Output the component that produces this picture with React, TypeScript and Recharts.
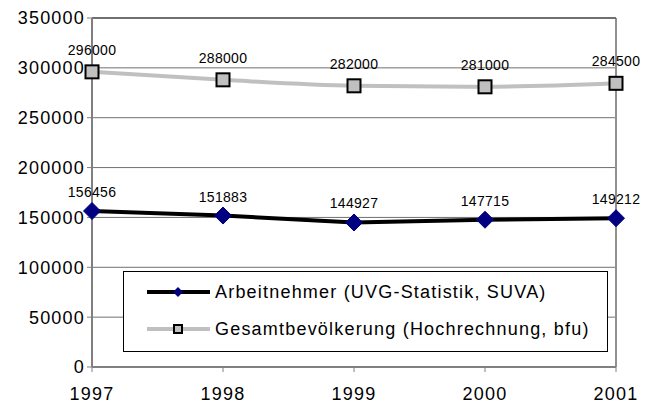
import React from "react";
import {
  LineChart,
  Line,
  XAxis,
  YAxis,
  CartesianGrid,
  LabelList,
  ReferenceLine,
} from "recharts";

const years = ["1997", "1998", "1999", "2000", "2001"];
const arbeitnehmer = [156456, 151883, 144927, 147715, 149212];
const gesamt = [296000, 288000, 282000, 281000, 284500];
const yTicks = [0, 50000, 100000, 150000, 200000, 250000, 300000, 350000];
const seriesNames = [
  "Arbeitnehmer (UVG-Statistik, SUVA)",
  "Gesamtbevölkerung (Hochrechnung, bfu)",
];

const data = years.map((y, i) => ({
  year: y,
  arb: arbeitnehmer[i],
  ges: gesamt[i],
}));

const FONT = "'Liberation Sans', Arial, sans-serif";

const Diamond = (props: any) => {
  const { cx, cy } = props;
  if (cx == null || cy == null) return null;
  const r = 8.5;
  return (
    <path
      d={`M${cx},${cy - r} L${cx + r},${cy} L${cx},${cy + r} L${cx - r},${cy} Z`}
      fill="#000080"
      stroke="#000080"
      strokeWidth={1}
    />
  );
};

const Square = (props: any) => {
  const { cx, cy } = props;
  if (cx == null || cy == null) return null;
  const s = 6.5;
  return (
    <rect
      x={cx - s}
      y={cy - s}
      width={2 * s}
      height={2 * s}
      fill="#c0c0c0"
      stroke="#000000"
      strokeWidth={2}
    />
  );
};

const LegendBox = () => (
  <div
    style={{
      position: "absolute",
      left: 123,
      top: 271,
      width: 485,
      height: 81,
      boxSizing: "border-box",
      border: "1px solid #000",
      background: "#fff",
      fontFamily: FONT,
      fontSize: 18,
      letterSpacing: 1.2,
      fontWeight: "normal",
      color: "#000",
    }}
  >
    {seriesNames.map((name, i) => (
      <div
        key={name}
        style={{
          position: "absolute",
          left: 22,
          top: i === 0 ? 8 : 45,
          display: "flex",
          alignItems: "center",
          height: 24,
          whiteSpace: "nowrap",
        }}
      >
        <svg width={66} height={14} style={{ marginRight: 3 }}>
          <line
            x1={1}
            y1={7}
            x2={64}
            y2={7}
            stroke={i === 0 ? "#000" : "#c0c0c0"}
            strokeWidth={4}
          />
          {i === 0 ? (
            <path d="M32,2 L37,7 L32,12 L27,7 Z" fill="#000080" />
          ) : (
            <rect x={28} y={3} width={8} height={8} fill="#c0c0c0" stroke="#000" strokeWidth={2} />
          )}
        </svg>
        <span>{name}</span>
      </div>
    ))}
  </div>
);

const tickStyle = { fontSize: 18, fill: "#000", fontFamily: FONT, letterSpacing: 1.2 };
const labelStyle = { fontSize: 14, fill: "#000", fontFamily: FONT, letterSpacing: 0.3 };

export default function App() {
  return (
    <div style={{ position: "absolute", left: 0, top: 0, width: 658, height: 405 }}>
      <LineChart
        width={658}
        height={405}
        data={data}
        margin={{ top: 18, right: 42, left: 0, bottom: 0 }}
      >
        <CartesianGrid horizontal vertical={false} stroke="#707070" strokeWidth={1} />
        <XAxis
          dataKey="year"
          height={38}
          padding={{ left: 0, right: 0 }}
          tick={tickStyle}
          tickSize={5}
          tickMargin={15}
          axisLine={{ stroke: "#808080", strokeWidth: 2 }}
          tickLine={{ stroke: "#808080", strokeWidth: 1 }}
          interval={0}
        />
        <YAxis
          width={92}
          domain={[0, 350000]}
          ticks={yTicks}
          interval={0}
          tick={tickStyle}
          tickSize={5}
          tickMargin={2}
          axisLine={{ stroke: "#808080", strokeWidth: 2 }}
          tickLine={{ stroke: "#808080", strokeWidth: 1 }}
        />
        <ReferenceLine x="2001" stroke="#909090" strokeWidth={2} />
        <ReferenceLine y={350000} stroke="#707070" strokeWidth={2} />
        <Line
          dataKey="ges"
          name={seriesNames[1]}
          type="monotone"
          stroke="#c0c0c0"
          strokeWidth={4}
          dot={<Square />}
          isAnimationActive={false}
        >
          <LabelList dataKey="ges" position="top" offset={17} style={labelStyle} />
        </Line>
        <Line
          dataKey="arb"
          name={seriesNames[0]}
          type="linear"
          stroke="#000000"
          strokeWidth={4}
          dot={<Diamond />}
          isAnimationActive={false}
        >
          <LabelList dataKey="arb" position="top" offset={14} style={labelStyle} />
        </Line>
      </LineChart>
      <LegendBox />
    </div>
  );
}
